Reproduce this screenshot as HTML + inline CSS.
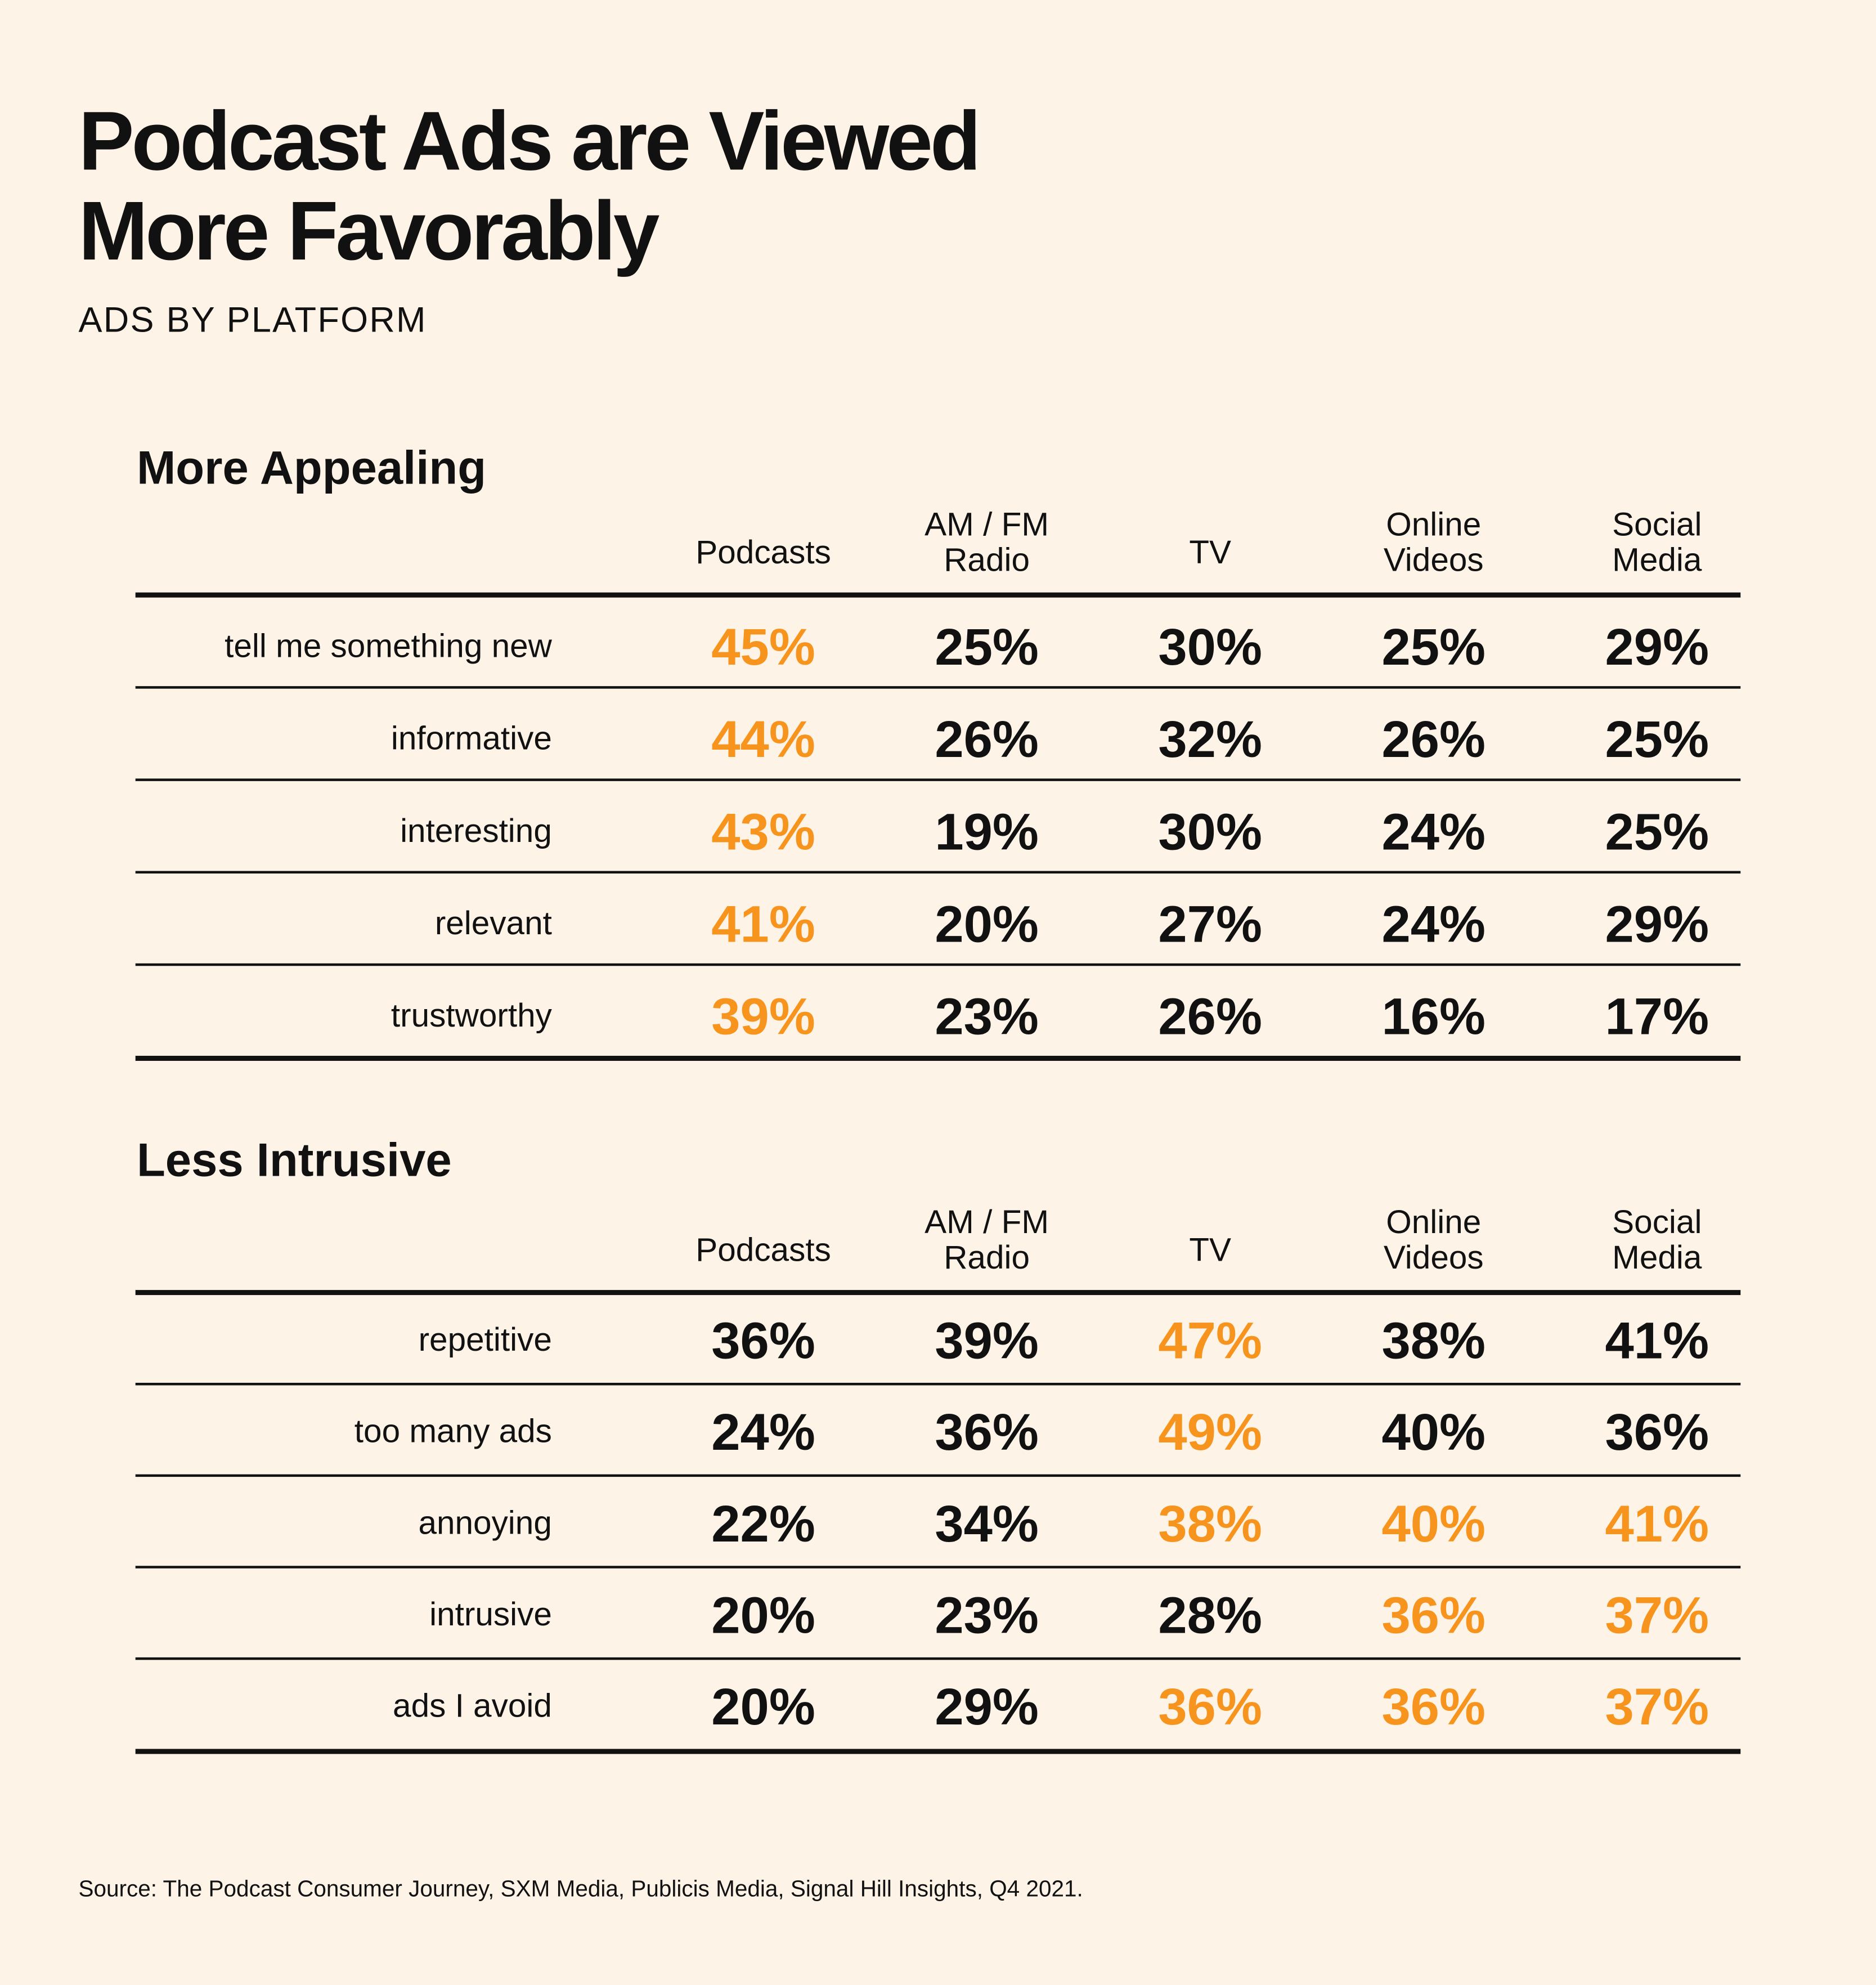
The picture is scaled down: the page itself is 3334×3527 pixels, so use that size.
<!DOCTYPE html>
<html><head><meta charset="utf-8">
<style>
html,body{margin:0;padding:0;background:#fdf3e7;}
svg{display:block;}
text{font-family:"Liberation Sans",sans-serif;fill:#111;}
</style></head>
<body>
<svg id="chart" width="3334" height="3527" viewBox="0 0 1482 1568" preserveAspectRatio="none">
<rect width="1482" height="1568" fill="#fdf3e7"/>
<text x="62" y="134" font-size="66" font-weight="bold" letter-spacing="-2.2">Podcast Ads are Viewed</text>
<text x="62" y="205" font-size="66" font-weight="bold" letter-spacing="-2.2">More Favorably</text>
<text x="62" y="262" font-size="28" letter-spacing="1">ADS BY PLATFORM</text>
<text x="62" y="1498" font-size="18">Source: The Podcast Consumer Journey, SXM Media, Publicis Media, Signal Hill Insights, Q4 2021.</text>
<g id="tables"></g>
</svg>
<script>
const platforms = [["Podcasts"],["AM / FM","Radio"],["TV"],["Online","Videos"],["Social","Media"]];
const appealLabels = ["tell me something new","informative","interesting","relevant","trustworthy"];
const appealValues = [[45,25,30,25,29],[44,26,32,26,25],[43,19,30,24,25],[41,20,27,24,29],[39,23,26,16,17]];
const appealHighlight = [[1,0,0,0,0],[1,0,0,0,0],[1,0,0,0,0],[1,0,0,0,0],[1,0,0,0,0]];
const intrLabels = ["repetitive","too many ads","annoying","intrusive","ads I avoid"];
const intrValues = [[36,39,47,38,41],[24,36,49,40,36],[22,34,38,40,41],[20,23,28,36,37],[20,29,36,36,37]];
const intrHighlight = [[0,0,1,0,0],[0,0,1,0,0],[0,0,1,1,1],[0,0,0,1,1],[0,0,1,1,1]];

const NS="http://www.w3.org/2000/svg";
const root=document.getElementById('tables');
const colX=i=>603+i*176.5;
function mk(tag,attrs,txt){const e=document.createElementNS(NS,tag);for(const k in attrs)e.setAttribute(k,attrs[k]);if(txt!==undefined)e.textContent=txt;root.appendChild(e);return e;}
function table(top,gap,rowH,off,title,key,labels,values,hl){
  let e=mk('text',{x:108,y:top+13,'font-size':37,'font-weight':'bold'},title);
  
  
  const lineTop=top+gap;
  platforms.forEach((p,i)=>{
    p.forEach((l,j)=>{
      const y=p.length===1?lineTop-25:lineTop-47+j*28;
      const t=mk('text',{x:colX(i),y:y,'font-size':26,'text-anchor':'middle'},l);
      
      
    });
  });
  let ln=mk('rect',{x:107,y:lineTop-2,width:1268,height:4,fill:'#111'});
  
  
  labels.forEach((lab,r)=>{
    const cy=lineTop+off+r*rowH;
    const t=mk('text',{x:436,y:cy+9,'font-size':26,'text-anchor':'end'},lab);
    
    
    values[r].forEach((v,c)=>{
      const vt=mk('text',{x:colX(c),y:cy+15,'font-size':41,'font-weight':'bold','text-anchor':'middle',fill:hl[r][c]?'#f7941d':'#111'},v+'%');
      vt.style.fill=hl[r][c]?'#f7941d':'#111';
      
      
    });
    const last=r===labels.length-1;
    const yb=lineTop+(r+1)*rowH-(last?-1:0);
    const rl=mk('rect',{x:107,y:yb-(last?2:1),width:1268,height:last?4:2,fill:'#111'});
    
    
  });
}
table(369,101,73,40,'More Appealing','appealing',appealLabels,appealValues,appealHighlight);
table(916,105,72.3,37,'Less Intrusive','intrusive',intrLabels,intrValues,intrHighlight);
</script>
</body></html>
